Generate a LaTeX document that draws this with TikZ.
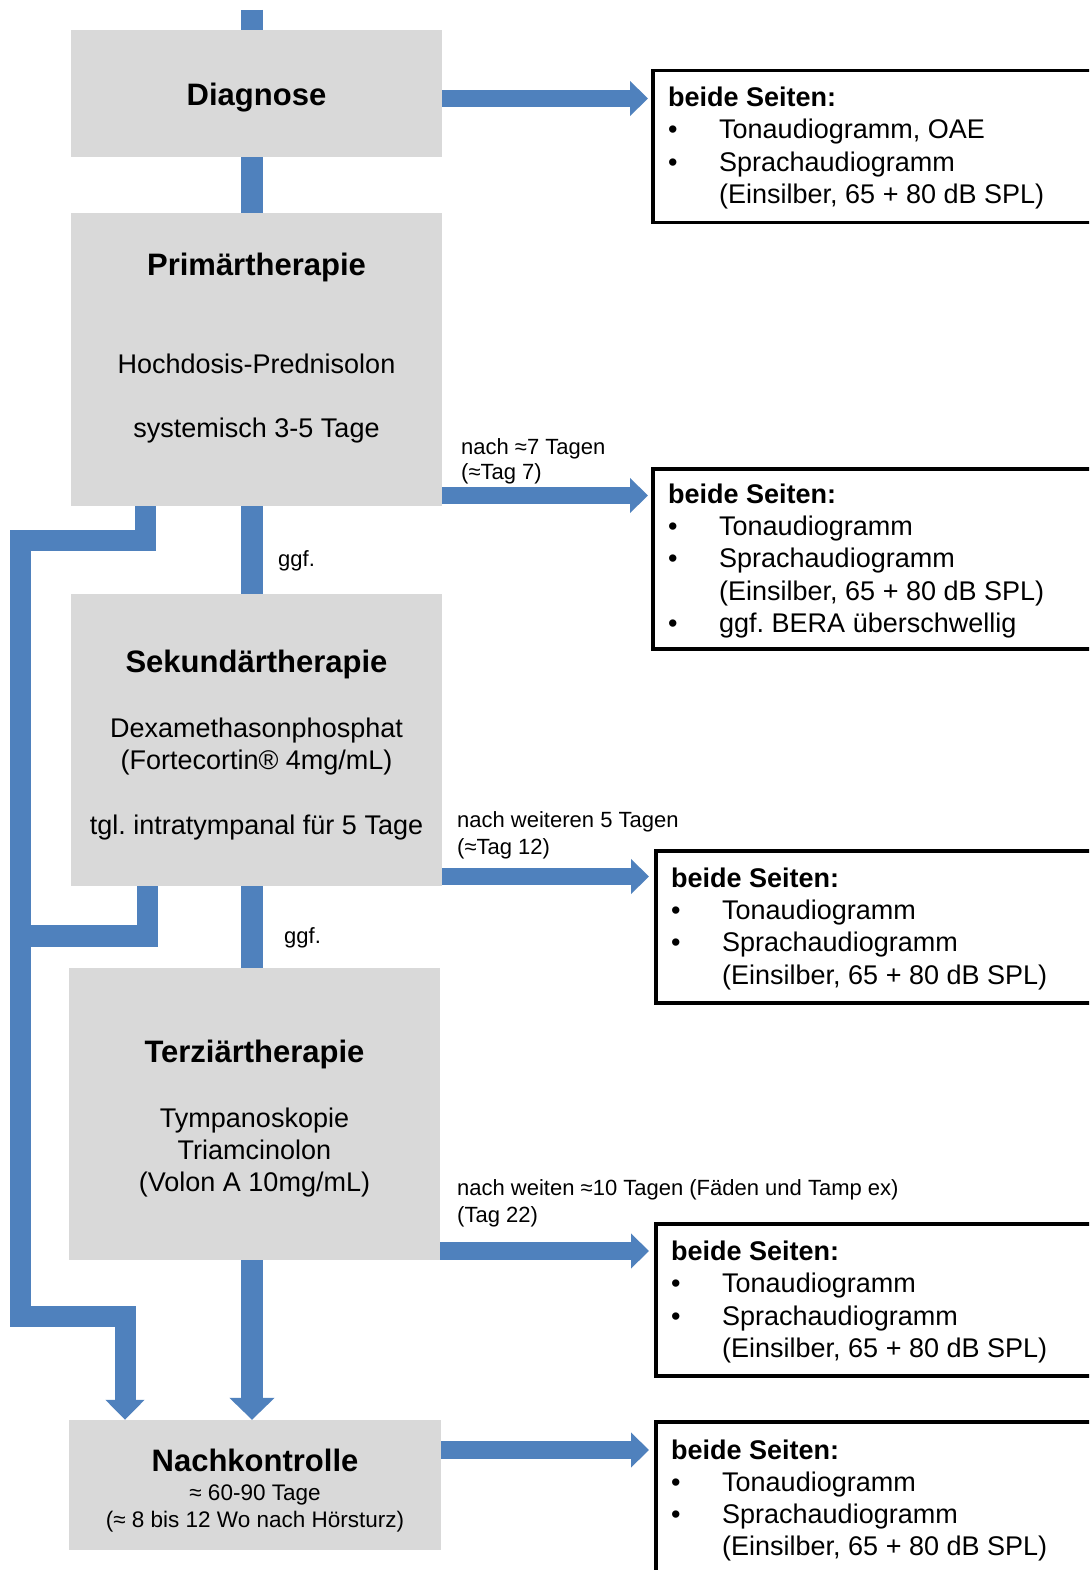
\documentclass[tikz,border=0pt]{standalone}
\usepackage{fontspec}
\setmainfont{Liberation Sans}
\usetikzlibrary{arrows.meta}
\definecolor{boxgray}{HTML}{D9D9D9}
\definecolor{flowblue}{HTML}{4F81BD}
\newcommand{\itembul}{\makebox[51pt][l]{•}}
\frenchspacing
\begin{document}
\frenchspacing
\begin{tikzpicture}[x=1pt,y=-1pt,
 gbox/.style={fill=boxgray, draw=none, inner sep=0pt, minimum width=371pt},
 rbox/.style={draw=black, line width=3.5pt, fill=white, inner sep=0pt, anchor=north west, minimum width=500pt},
 flow/.style={draw=flowblue, line width=21.5pt},
 fat/.style={flow, -{Triangle[length=22pt,width=44pt]}},
 side/.style={draw=flowblue, line width=17.5pt, -{Triangle[length=18pt,width=34pt]}},
 title/.style={font=\fontsize{31}{37}\selectfont\bfseries, anchor=base, inner sep=0pt},
 body/.style={font=\fontsize{27}{32}\selectfont, anchor=base, inner sep=0pt},
 sub/.style={font=\fontsize{22.5}{27}\selectfont, anchor=base, inner sep=0pt},
 small/.style={font=\fontsize{22}{26}\selectfont, anchor=base west, inner sep=0pt},
 rhead/.style={font=\fontsize{27}{32}\selectfont\bfseries, anchor=base west, inner sep=0pt},
 ritem/.style={font=\fontsize{27}{32}\selectfont, anchor=base west, inner sep=0pt},
]
\useasboundingbox (0,0) rectangle (1089,1570);
\fill[white] (0,0) rectangle (1089,1570);
\clip (0,0) rectangle (1089,1570);

% helper coordinates
\coordinate (cx) at (252,0);
\coordinate (topend) at (252,10);
\coordinate (bx1) at (145.5,0);
\coordinate (bx2) at (147.5,0);
\coordinate (bx3) at (125,0);
\coordinate (y1) at (0,98.5);
\coordinate (y2) at (0,495.5);
\coordinate (y3) at (0,876.5);
\coordinate (y4) at (0,1251);
\coordinate (y5) at (0,1450);

% gray boxes
\node[gbox, minimum height=127pt] (diag) at (256.5,93.5) {};
\node[gbox, minimum height=293pt] (prim) at (256.5,359.5) {};
\node[gbox, minimum height=292pt] (sek) at (256.5,740) {};
\node[gbox, minimum height=292pt] (terz) at (254.5,1114) {};
\node[gbox, minimum height=130pt, minimum width=372pt] (nach) at (255,1485) {};

% right boxes
\node[rbox, minimum height=152pt] (r1) at (651,69) {};
\node[rbox, minimum height=180pt] (r2) at (651,467) {};
\node[rbox, minimum height=152pt] (r3) at (654,849) {};
\node[rbox, minimum height=152pt] (r4) at (654,1222) {};
\node[rbox, minimum height=200pt] (r5) at (654,1420) {};

% vertical connectors
\draw[flow] (topend) -- (diag.north -| cx);
\draw[flow] (diag.south -| cx) -- (prim.north -| cx);
\draw[flow] (prim.south -| cx) -- (sek.north -| cx);
\draw[flow] (sek.south -| cx) -- (terz.north -| cx);
\draw[fat] (terz.south -| cx) -- (nach.north -| cx);

% bypass
\draw[draw=flowblue, line width=21pt, -{Triangle[length=20pt,width=38pt]}]
  (prim.south -| bx1) -- (145.5,540.5) -- (20.5,540.5) -- (20.5,1316.5) -- (125,1316.5) -- (nach.north -| bx3);
\draw[draw=flowblue, line width=21.5pt]
  (sek.south -| bx2) -- (147.5,936) -- (20.5,936);

% side arrows
\draw[side, shorten >=3pt] (diag.east |- y1) -- (r1.west |- y1);
\draw[side, shorten >=3pt] (prim.east |- y2) -- (r2.west |- y2);
\draw[side, shorten >=5pt] (sek.east |- y3) -- (r3.west |- y3);
\draw[side, shorten >=5pt] (terz.east |- y4) -- (r4.west |- y4);
\draw[side, shorten >=5pt] (nach.east |- y5) -- (r5.west |- y5);

% gray box texts
\node[title] (tdiag) at (256.5,106) {Diagnose};
\node[title] (tprim) at (256.5,276) {Primärtherapie};
\node[body] (p1) at (256.5,373.5) {Hochdosis-Prednisolon};
\node[body] (p2) at (256.5,437.5) {systemisch 3-5 Tage};
\node[title] (tsek) at (256.5,672) {Sekundärtherapie};
\node[body] (s1) at (256.5,737.5) {Dexamethasonphosphat};
\node[body] (s2) at (256.5,769.5) {(Fortecortin® 4mg/mL)};
\node[body] (s3) at (256.5,834.5) {tgl. intratympanal für 5 Tage};
\node[title] (tterz) at (254.5,1062) {Terziärtherapie};
\node[body] (t1) at (254.5,1127.5) {Tympanoskopie};
\node[body] (t2) at (254.5,1159.5) {Triamcinolon};
\node[body] (t3) at (254.5,1191.5) {(Volon A 10mg/mL)};
\node[title] (tnach) at (255,1471) {Nachkontrolle};
\node[sub] (n1) at (255,1500) {≈ 60-90 Tage};
\node[sub] (n2) at (255,1527) {(≈ 8 bis 12 Wo nach Hörsturz)};

% labels
\node[small] (g1) at (278,566) {ggf.};
\node[small] (g2) at (284,943) {ggf.};
\node[small] (l1a) at (461,454) {nach ≈7 Tagen};
\node[small] (l1b) at (461,479) {(≈Tag 7)};
\node[small] (l2a) at (457,827) {nach weiteren 5 Tagen};
\node[small] (l2b) at (457,854) {(≈Tag 12)};
\node[small] (l3a) at (457,1195) {nach weiten ≈10 Tagen (Fäden und Tamp ex)};
\node[small] (l3b) at (457,1222) {(Tag 22)};

% right box texts
\node[rhead] (r1h) at (668,106.5) {beide Seiten:};
\node[ritem] (r1a) at (668,138.5) {\itembul Tonaudiogramm, OAE};
\node[ritem] (r1b) at (668,171.5) {\itembul Sprachaudiogramm};
\node[ritem] (r1c) at (719,203.5) {(Einsilber, 65 + 80 dB SPL)};

\node[rhead] (r2h) at (668,503.5) {beide Seiten:};
\node[ritem] (r2a) at (668,535.5) {\itembul Tonaudiogramm};
\node[ritem] (r2b) at (668,567.5) {\itembul Sprachaudiogramm};
\node[ritem] (r2c) at (719,600.5) {(Einsilber, 65 + 80 dB SPL)};
\node[ritem] (r2d) at (668,632.5) {\itembul ggf. BERA überschwellig};

\node[rhead] (r3h) at (671,887.5) {beide Seiten:};
\node[ritem] (r3a) at (671,919.5) {\itembul Tonaudiogramm};
\node[ritem] (r3b) at (671,951.5) {\itembul Sprachaudiogramm};
\node[ritem] (r3c) at (722,984.5) {(Einsilber, 65 + 80 dB SPL)};

\node[rhead] (r4h) at (671,1260.5) {beide Seiten:};
\node[ritem] (r4a) at (671,1292.5) {\itembul Tonaudiogramm};
\node[ritem] (r4b) at (671,1325.5) {\itembul Sprachaudiogramm};
\node[ritem] (r4c) at (722,1357.5) {(Einsilber, 65 + 80 dB SPL)};

\node[rhead] (r5h) at (671,1459) {beide Seiten:};
\node[ritem] (r5a) at (671,1491) {\itembul Tonaudiogramm};
\node[ritem] (r5b) at (671,1523) {\itembul Sprachaudiogramm};
\node[ritem] (r5c) at (722,1555) {(Einsilber, 65 + 80 dB SPL)};
\end{tikzpicture}
\end{document}
